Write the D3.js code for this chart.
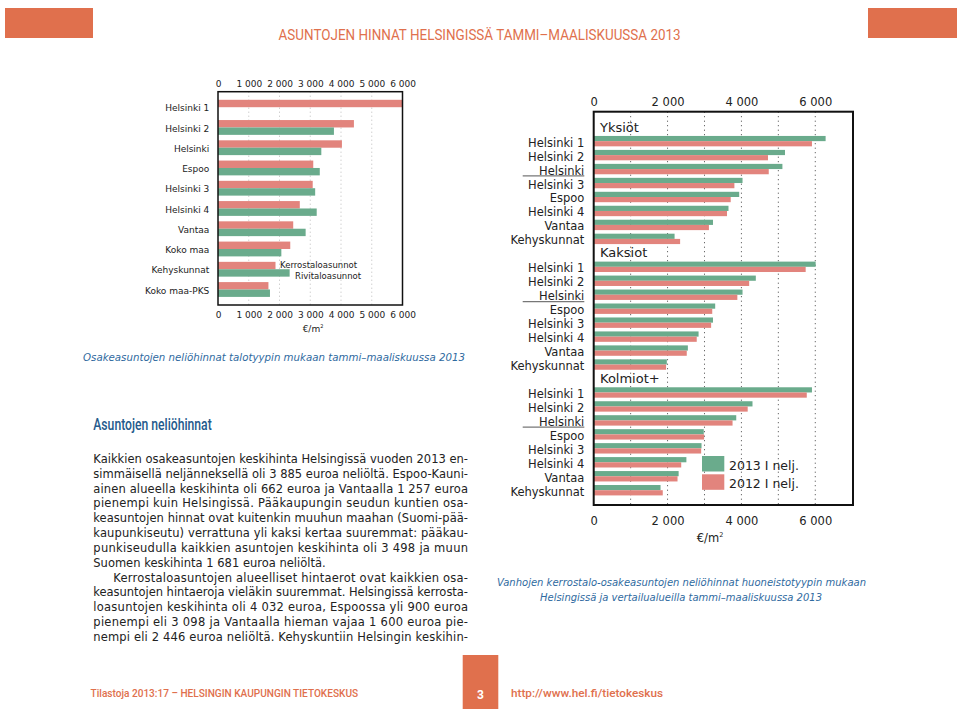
<!DOCTYPE html>
<html><head><meta charset="utf-8">
<script src="https://cdn.jsdelivr.net/npm/d3@7"></script>
<style>body{margin:0;background:#fff}svg{display:block}</style>
</head><body>
<svg id="c" width="960" height="712"></svg>
<script>
// ---------- DATA ----------
const leftCategories = ["Helsinki 1","Helsinki 2","Helsinki","Espoo","Helsinki 3","Helsinki 4","Vantaa","Koko maa","Kehyskunnat","Koko maa-PKS"];
const kerrostalo = [6000,4420,4030,3098,3080,2660,2446,2350,1870,1640];
const rivitalo   = [null,3770,3360,3310,3160,3210,2850,2060,2330,1690];
const leftTicks = [0,1000,2000,3000,4000,5000,6000];

const groups = ["Yksiöt","Kaksiot","Kolmiot+"];
const yksiotAreas = ["Helsinki 1","Helsinki 2","Helsinki","Helsinki 3","Espoo","Helsinki 4","Vantaa","Kehyskunnat"];
const otherAreas  = ["Helsinki 1","Helsinki 2","Helsinki","Espoo","Helsinki 3","Helsinki 4","Vantaa","Kehyskunnat"];
const yksiot2013  = [6280,5180,5110,4030,3940,3650,3230,2190];
const yksiot2012  = [5910,4720,4740,3810,3710,3610,3120,2340];
const kaksiot2013 = [6010,4390,4030,3290,3230,2840,2550,1980];
const kaksiot2012 = [5740,4210,3890,3210,3180,2790,2520,1960];
const kolmiot2013 = [5910,4300,3860,2980,2920,2510,2300,1810];
const kolmiot2012 = [5770,4170,3760,2990,2910,2370,2270,1870];
const rightTicks = [0,2000,4000,6000];
const rightGrid = [1000,2000,3000,4000,5000,6000];
const legendLabels = ["2013 I nelj.","2012 I nelj."];

const bodyLines = [
 "Kaikkien osakeasuntojen keskihinta Helsingissä vuoden 2013 en-",
 "simmäisellä neljänneksellä oli 3 885 euroa neliöltä. Espoo-Kauni-",
 "ainen alueella keskihinta oli 662 euroa ja Vantaalla 1 257 euroa",
 "pienempi kuin Helsingissä. Pääkaupungin seudun kuntien osa-",
 "keasuntojen hinnat ovat kuitenkin muuhun maahan (Suomi-pää-",
 "kaupunkiseutu) verrattuna yli kaksi kertaa suuremmat: pääkau-",
 "punkiseudulla kaikkien asuntojen keskihinta oli 3 498 ja muun",
 "Suomen keskihinta 1 681 euroa neliöltä.",
 "Kerrostaloasuntojen alueelliset hintaerot ovat kaikkien osa-",
 "keasuntojen hintaeroja vieläkin suuremmat. Helsingissä kerrosta-",
 "loasuntojen keskihinta oli 4 032 euroa, Espoossa yli 900 euroa",
 "pienempi eli 3 098 ja Vantaalla hieman vajaa 1 600 euroa pie-",
 "nempi eli 2 446 euroa neliöltä. Kehyskuntiin Helsingin keskihin-"
];

// ---------- STYLE ----------
const GREEN = "#6aab8c", RED = "#e2847d", ORANGE = "#e0704d", BLUE = "#2f6aa0";
const FONT = "'DejaVu Sans', Verdana, sans-serif";
const COND = "Roboto, 'DejaVu Sans', sans-serif";
const fmt = d3.formatLocale({decimal:",", thousands:" ", grouping:[3], currency:["","€"]}).format(",d");

const svg = d3.select("#c");

// ---------- PAGE DECOR ----------
svg.append("rect").attr("x",5).attr("y",8).attr("width",88).attr("height",30).attr("fill",ORANGE);
svg.append("rect").attr("x",868).attr("y",8).attr("width",89).attr("height",30).attr("fill",ORANGE);
svg.append("text").attr("x",278.6).attr("y",40).attr("textLength",402).attr("lengthAdjust","spacingAndGlyphs")
  .attr("font-family",COND).attr("font-size",14.5).attr("font-weight",400).attr("fill",ORANGE)
  .text("ASUNTOJEN HINNAT HELSINGISSÄ TAMMI–MAALISKUUSSA 2013");

svg.append("rect").attr("x",462.7).attr("y",655).attr("width",35.6).attr("height",54).attr("fill",ORANGE);
svg.append("text").attr("x",480.5).attr("y",699).attr("text-anchor","middle").attr("font-family",COND)
  .attr("font-size",12).attr("font-weight",700).attr("fill","#fff").text("3");
svg.append("text").attr("x",90.6).attr("y",697).attr("textLength",267.5).attr("lengthAdjust","spacingAndGlyphs")
  .attr("font-family",COND).attr("font-size",11.5).attr("font-weight",500).attr("fill",ORANGE)
  .text("Tilastoja 2013:17 – HELSINGIN KAUPUNGIN TIETOKESKUS");
svg.append("text").attr("x",511).attr("y",697).attr("textLength",152).attr("lengthAdjust","spacingAndGlyphs")
  .attr("font-family",COND).attr("font-size",11.5).attr("font-weight",500).attr("fill",ORANGE)
  .text("http://www.hel.fi/tietokeskus");

// heading + body
svg.append("text").attr("x",93.3).attr("y",430).attr("textLength",118.4).attr("lengthAdjust","spacingAndGlyphs")
  .attr("font-family",COND).attr("font-size",16).attr("font-weight",500).attr("fill","#245a8c").text("Asuntojen neliöhinnat");
const body = svg.append("g").attr("font-family",FONT).attr("font-size",11.5).attr("fill","#222");
bodyLines.forEach((t,i)=>{
  const indent = i===8 ? 20 : 0;
  const el = body.append("text").attr("x",93.3+indent).attr("y",463+14.83*i).text(t);
  if (i!==7) el.attr("textLength",374.7-indent).attr("lengthAdjust","spacing");
});

// captions
svg.append("text").attr("x",83).attr("y",361).attr("textLength",382).attr("lengthAdjust","spacingAndGlyphs")
  .attr("font-family",FONT).attr("font-style","italic").attr("font-size",10.3).attr("fill",BLUE)
  .text("Osakeasuntojen neliöhinnat talotyypin mukaan tammi–maaliskuussa 2013");
svg.append("text").attr("x",497).attr("y",585.5).attr("textLength",369).attr("lengthAdjust","spacingAndGlyphs")
  .attr("font-family",FONT).attr("font-style","italic").attr("font-size",10).attr("fill",BLUE)
  .text("Vanhojen kerrostalo-osakeasuntojen neliöhinnat huoneistotyypin mukaan");
svg.append("text").attr("x",540).attr("y",601).attr("textLength",282).attr("lengthAdjust","spacingAndGlyphs")
  .attr("font-family",FONT).attr("font-style","italic").attr("font-size",10).attr("fill",BLUE)
  .text("Helsingissä ja vertailualueilla tammi–maaliskuussa 2013");

// ---------- LEFT CHART ----------
const lx = d3.scaleLinear().domain([0,6000]).range([218,402.5]);
const ly = d3.scaleBand().domain(leftCategories).range([91.7,305]).paddingInner(0.269).paddingOuter(0.40);
const L = svg.append("g");
L.selectAll(".lg").data(leftTicks.slice(1,-1)).join("line")
  .attr("x1",d=>lx(d)).attr("x2",d=>lx(d)).attr("y1",91.7).attr("y2",305)
  .attr("stroke","#bbb").attr("stroke-width",1).attr("stroke-dasharray","1,3");
const bw = ly.bandwidth()/2;
L.selectAll(".kr").data(leftCategories).join("rect")
  .attr("x",lx(0)).attr("y",d=>ly(d)).attr("height",bw)
  .attr("width",(d,i)=>lx(kerrostalo[i])-lx(0)).attr("fill",RED);
L.selectAll(".rv").data(leftCategories.filter((d,i)=>rivitalo[i]!=null)).join("rect")
  .attr("x",lx(0)).attr("y",d=>ly(d)+bw).attr("height",bw)
  .attr("width",d=>lx(rivitalo[leftCategories.indexOf(d)])-lx(0)).attr("fill",GREEN);
L.append("rect").attr("x",lx(0)).attr("y",91.7).attr("width",lx(6000)-lx(0)).attr("height",305-91.7)
  .attr("fill","none").attr("stroke","#111").attr("stroke-width",1.5);
L.selectAll(".ll").data(leftCategories).join("text")
  .attr("x",209.3).attr("y",d=>ly(d)+ly.bandwidth()/2+4.2).attr("text-anchor","end")
  .attr("font-family",FONT).attr("font-size",9).attr("fill","#222").text(d=>d);
const lt = L.append("g").attr("transform","translate(0,86.6)")
  .call(d3.axisTop(lx).tickValues(leftTicks).tickFormat(fmt).tickSize(0).tickPadding(0));
const lb = L.append("g").attr("transform","translate(0,305)")
  .call(d3.axisBottom(lx).tickValues(leftTicks).tickFormat(fmt).tickSize(0).tickPadding(6.9));
[lt,lb].forEach(a=>{a.select(".domain").remove();a.selectAll("text").attr("font-family",FONT).attr("font-size",9).attr("fill","#222");});
L.append("text").attr("x",280).attr("y",268).attr("font-family",FONT).attr("font-size",8.5).attr("fill","#222").text("Kerrostaloasunnot");
L.append("text").attr("x",295).attr("y",279).attr("font-family",FONT).attr("font-size",8.5).attr("fill","#222").text("Rivitaloasunnot");
const lu = L.append("text").attr("x",313).attr("y",331.5).attr("text-anchor","middle").attr("font-family",FONT).attr("font-size",9).attr("fill","#222");
lu.append("tspan").text("€/m"); lu.append("tspan").attr("font-size",5).attr("dy",-4).text("2");

// ---------- RIGHT CHART ----------
const rx = d3.scaleLinear().domain([0,7000]).range([593.7,852.2]);
const ry = d3.scaleBand().domain(d3.range(27)).range([120.2,497.2]);
const boxTop = 111.7, boxBot = 505;
const R = svg.append("g");
R.selectAll(".rg").data(rightGrid).join("line")
  .attr("x1",d=>rx(d)).attr("x2",d=>rx(d)).attr("y1",boxTop).attr("y2",boxBot)
  .attr("stroke","#444").attr("stroke-width",1).attr("stroke-dasharray","1,3.5");

const groupData = [
  {name:groups[0], areas:yksiotAreas, v13:yksiot2013, v12:yksiot2012},
  {name:groups[1], areas:otherAreas, v13:kaksiot2013, v12:kaksiot2012},
  {name:groups[2], areas:otherAreas, v13:kolmiot2013, v12:kolmiot2012}
];
const rows = [];
groupData.forEach((g,gi)=>g.areas.forEach((a,i)=>rows.push({slot:gi*9+1+i, area:a, v13:g.v13[i], v12:g.v12[i]})));
const cy = s => ry(s)+ry.bandwidth()/2;
const hb = 5.2;
R.selectAll(".g13").data(rows).join("rect")
  .attr("x",rx(0)).attr("y",d=>cy(d.slot)-hb).attr("height",hb).attr("width",d=>rx(d.v13)-rx(0)).attr("fill",GREEN);
R.selectAll(".g12").data(rows).join("rect")
  .attr("x",rx(0)).attr("y",d=>cy(d.slot)).attr("height",hb).attr("width",d=>rx(d.v12)-rx(0)).attr("fill",RED);
R.selectAll(".rl").data(rows).join("text")
  .attr("x",584.3).attr("y",d=>cy(d.slot)+5.5).attr("text-anchor","end")
  .attr("font-family",FONT).attr("font-size",11.5).attr("fill","#222").text(d=>d.area);
R.selectAll(".ul").data(rows.filter(d=>d.area==="Helsinki")).join("line")
  .attr("x1",522.7).attr("x2",584.3).attr("y1",d=>cy(d.slot)+6.8).attr("y2",d=>cy(d.slot)+6.8)
  .attr("stroke","#777").attr("stroke-width",1.2);
R.selectAll(".gh").data(groupData).join("text")
  .attr("x",600).attr("y",(d,i)=>cy(i*9)+4.6).attr("font-family",FONT).attr("font-size",13).attr("fill","#222").text(d=>d.name);
R.append("rect").attr("x",rx(0)).attr("y",boxTop).attr("width",853-rx(0)).attr("height",boxBot-boxTop)
  .attr("fill","none").attr("stroke","#111").attr("stroke-width",2);
const rt = R.append("g").attr("transform","translate(0,105.8)")
  .call(d3.axisTop(rx).tickValues(rightTicks).tickFormat(fmt).tickSize(0).tickPadding(0));
const rb = R.append("g").attr("transform","translate(0,505)")
  .call(d3.axisBottom(rx).tickValues(rightTicks).tickFormat(fmt).tickSize(0).tickPadding(11.7));
[rt,rb].forEach(a=>{a.select(".domain").remove();a.selectAll("text").attr("font-family",FONT).attr("font-size",11.5).attr("fill","#222");});
const ru = R.append("text").attr("x",710).attr("y",542).attr("text-anchor","middle").attr("font-family",FONT).attr("font-size",11.5).attr("fill","#222");
ru.append("tspan").text("€/m"); ru.append("tspan").attr("font-size",6.5).attr("dy",-5).text("2");

// legend
const leg = R.append("g");
[GREEN,RED].forEach((c,i)=>{
  leg.append("rect").attr("x",702).attr("y",456+18.3*i).attr("width",22.3).attr("height",15.5).attr("fill",c);
  leg.append("text").attr("x",729).attr("y",470+17.7*i).attr("font-family",FONT).attr("font-size",12.5).attr("fill","#222").text(legendLabels[i]);
});
</script>
</body></html>
